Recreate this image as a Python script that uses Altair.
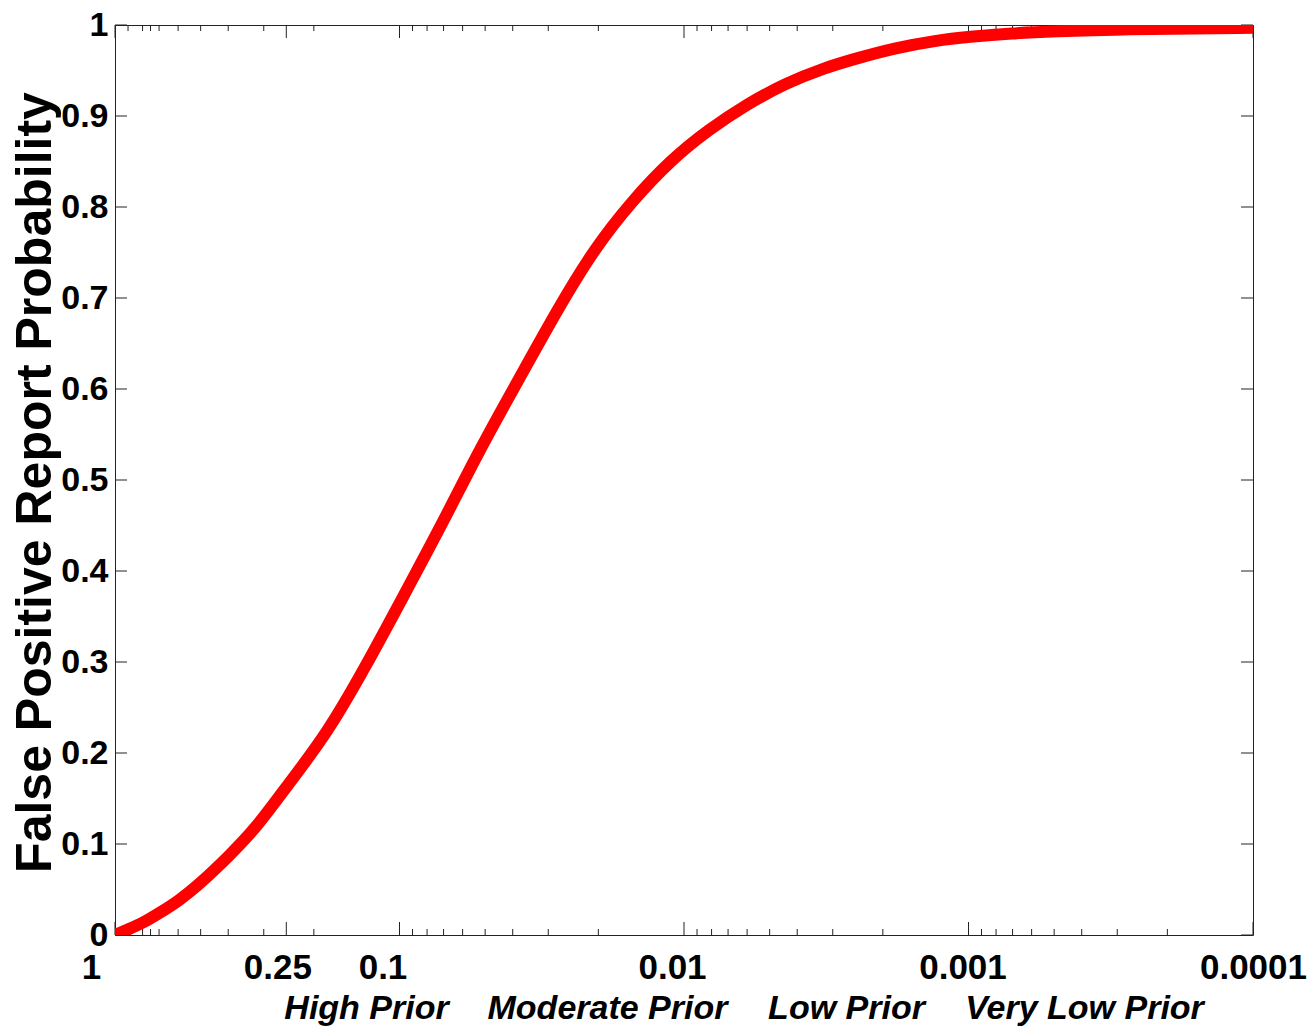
import altair as alt
import pandas as pd

# False positive report probability against the prior probability of a true association
prior = [1, 0.9, 0.8, 0.7, 0.6, 0.5, 0.4, 0.32, 0.247, 0.18, 0.132, 0.097, 0.071,
         0.052, 0.038, 0.028, 0.0207, 0.0152, 0.0111, 0.0082, 0.006, 0.0044, 0.0032,
         0.0025, 0.0018, 0.0013, 0.001, 0.0007, 0.0005, 0.0003, 0.0002, 0.0001]
fprp = [0.0, 0.006, 0.013, 0.024, 0.037, 0.057, 0.086, 0.117, 0.165, 0.221, 0.294,
        0.372, 0.451, 0.535, 0.611, 0.686, 0.754, 0.807, 0.852, 0.885, 0.913, 0.936,
        0.953, 0.963, 0.975, 0.983, 0.987, 0.991, 0.993, 0.995, 0.996, 0.997]

x_major = [1, 0.25, 0.1, 0.01, 0.001, 0.0001]
x_major_labels = ["1", "0.25", "0.1", "0.01", "0.001", "0.0001"]
x_minor = [0.9, 0.8, 0.75, 0.7, 0.6, 0.5, 0.4, 0.3, 0.2,
           0.09, 0.08, 0.07, 0.06, 0.05, 0.04, 0.03, 0.02,
           0.009, 0.008, 0.007, 0.006, 0.005, 0.004, 0.003, 0.002,
           0.0009, 0.0008, 0.0007, 0.0006, 0.0005, 0.0004, 0.0003, 0.0002]
y_ticks = [0, 0.1, 0.2, 0.3, 0.4, 0.5, 0.6, 0.7, 0.8, 0.9, 1]
prior_groups = ["High Prior", "Moderate Prior", "Low Prior", "Very Low Prior"]

W, H = 1138, 910
FONT = "Liberation Sans"
MAJOR, MINOR = 13, 6

curve = pd.DataFrame({"prior": prior, "fprp": fprp})
major_df = pd.DataFrame({"prior": x_major, "fprp": [0.0] * len(x_major)})
minor_df = pd.DataFrame({"prior": x_minor, "fprp": [0.0] * len(x_minor)})
yt_df = pd.DataFrame({"fprp": y_ticks, "prior": [1.0] * len(y_ticks)})

xscale = alt.Scale(type="log", domain=[0.0001, 1], reverse=True, nice=False)
yscale = alt.Scale(domain=[0, 1], nice=False, zero=False)

label_expr = " : ".join(
    f"datum.value == {v} ? '{s}'" for v, s in zip(x_major, x_major_labels)
) + " : ''"
label_shift = {1: -24, 0.25: -9, 0.1: -17, 0.01: -12, 0.001: -6, 0.0001: 0}
offset_expr = " : ".join(
    f"datum.value == {v} ? {d}" for v, d in label_shift.items()
) + " : 0"

x_axis = alt.Axis(
    values=x_major, labelExpr=label_expr, title=None, ticks=False, tickSize=0,
    domain=False, grid=False, labelFont=FONT, labelFontSize=35,
    labelFontWeight="bold", labelColor="black", labelPadding=43,
    labelBaseline="alphabetic", labelFlush=False, labelOverlap=False,
    labelOffset={"expr": offset_expr},
)
y_axis = alt.Axis(
    values=y_ticks, format="~g", title="False Positive Report Probability",
    ticks=False, tickSize=0, domain=False, grid=False, labelFont=FONT,
    labelFontSize=34, labelFontWeight="bold", labelColor="black",
    labelPadding=7, labelBaseline="middle", labelOverlap=False,
    titleFont=FONT, titleFontSize=50, titleFontWeight="bold", titleColor="black",
    titleAngle=270, titleX=-65, titleY=H / 2 + 2, titleAlign="center",
    titleBaseline="alphabetic",
)

X = alt.X("prior:Q", scale=xscale, axis=x_axis)
Y = alt.Y("fprp:Q", scale=yscale, axis=y_axis)
tick_style = dict(color="#222222", strokeWidth=1)


def xticks(df, length, top):
    y0, y1 = (0, length) if top else (H, H - length)
    return alt.Chart(df).mark_rule(**tick_style).encode(
        x=X, y=alt.value(y0), y2=alt.value(y1),
    )


def yticks(right):
    x0, x1 = (W - 12, W) if right else (0, 12)
    return alt.Chart(yt_df).mark_rule(**tick_style).encode(
        y=Y, x=alt.value(x0), x2=alt.value(x1),
    )


line = alt.Chart(curve).mark_line(
    color="#ff0000", strokeWidth=12, interpolate="basis", clip=True
).encode(
    x=X, y=Y,
    order=alt.Order("prior:Q", sort="descending"),
)

group_centers = [251.5, 492.5, 731.5, 969.5]
group_layers = [
    alt.Chart(pd.DataFrame({"g": [g]})).mark_text(
        font=FONT, fontSize=34, fontWeight="bold", fontStyle="italic",
        color="black", align="center", baseline="alphabetic",
    ).encode(text="g:N", x=alt.value(cx), y=alt.value(H + 84))
    for g, cx in zip(prior_groups, group_centers)
]

chart = alt.layer(
    xticks(major_df, MAJOR, False), xticks(minor_df, MINOR, False),
    xticks(major_df, MAJOR, True), xticks(minor_df, MINOR, True),
    yticks(False), yticks(True),
    line, *group_layers,
).properties(
    width=W, height=H,
    autosize=alt.AutoSizeParams(type="none"),
    padding={"left": 115, "top": 25, "right": 56, "bottom": 96},
    background="white",
).configure_view(stroke="#222222", strokeWidth=1)

chart.save("out.html", embed_options={"renderer": "svg", "actions": False})
